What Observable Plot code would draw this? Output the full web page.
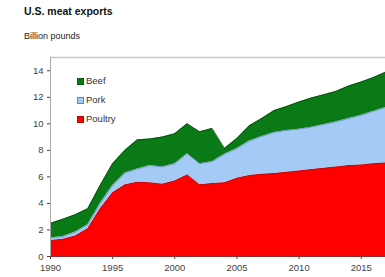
<!DOCTYPE html>
<html>
<head>
<meta charset="utf-8">
<script src="https://cdn.jsdelivr.net/npm/d3@7"></script>
<script src="https://cdn.jsdelivr.net/npm/@observablehq/plot@0.6"></script>
<style>
  html, body { margin: 0; padding: 0; background: #fff; overflow: hidden; }
  body { width: 385px; height: 277px; position: relative; font-family: "Liberation Sans", Arial, sans-serif; }
  #title { position: absolute; left: 24px; top: 5px; font-size: 10.5px; font-weight: bold; color: #111; }
  #subtitle { position: absolute; left: 24px; top: 31px; font-size: 9px; color: #222; }
  #chart { position: absolute; left: 0; top: 46px; }
  #legend { position: absolute; left: 77px; top: 75px; font-size: 9.5px; color: #333; }
  .li { position: absolute; left: 0; white-space: nowrap; height: 12px; line-height: 12px; }
  .sw { position: absolute; left: 0; top: 2.5px; width: 7px; height: 7px; box-sizing: border-box; }
  .lt { position: absolute; left: 9px; top: 0; }
</style>
</head>
<body>
<div id="title">U.S. meat exports</div>
<div id="subtitle">Billion pounds</div>
<div id="chart"></div>
<div id="legend"></div>
<script>
const years   = [1990,1991,1992,1993,1994,1995,1996,1997,1998,1999,2000,2001,2002,2003,2004,2005,2006,2007,2008,2009,2010,2011,2012,2013,2014,2015,2016,2017];
const poultry = [1.2,1.3,1.55,2.1,3.6,4.8,5.4,5.6,5.55,5.45,5.7,6.15,5.4,5.5,5.55,5.9,6.1,6.2,6.25,6.35,6.45,6.55,6.65,6.75,6.85,6.9,7.0,7.05];
const pork    = [0.2,0.2,0.3,0.3,0.4,0.55,0.9,1.0,1.3,1.3,1.3,1.6,1.6,1.65,2.15,2.25,2.6,2.85,3.1,3.15,3.15,3.2,3.3,3.4,3.55,3.75,3.95,4.2];
const beef    = [1.1,1.3,1.3,1.2,1.35,1.65,1.7,2.2,2.0,2.25,2.25,2.25,2.4,2.5,0.45,0.75,1.15,1.35,1.65,1.8,2.05,2.2,2.25,2.3,2.45,2.5,2.55,2.65];
const seriesNames = ["Poultry","Pork","Beef"];
const legendOrder = ["Beef","Pork","Poultry"];
const fillColors   = {Poultry: "#ff0000", Pork: "#a3cbf6", Beef: "#097a16"};
const strokeColors = {Poultry: "#b01010", Pork: "#6d8fb5", Beef: "#0c4a14"};
const swatchBorder = {Poultry: "#c00000", Pork: "#5b86c0", Beef: "#07600f"};
const yTicks = [0,2,4,6,8,10,12,14];
const xTicks = [1990,1995,2000,2005,2010,2015];

const valuesBySeries = {Poultry: poultry, Pork: pork, Beef: beef};
const table = [];
for (const s of seriesNames) {
  years.forEach((yr, i) => table.push({year: yr, series: s, value: valuesBySeries[s][i]}));
}

const chart = Plot.plot({
  width: 385,
  height: 231,
  marginTop: 11,
  marginBottom: 21,
  marginLeft: 50,
  marginRight: 0,
  style: {fontFamily: "'Liberation Sans', Arial, sans-serif", fontSize: "9.5px", color: "#444", background: "transparent"},
  x: {domain: [1990, 2016.95], ticks: xTicks, tickFormat: d => String(d), tickSize: 3, tickPadding: 5, label: null},
  y: {domain: [0, 15], ticks: yTicks, tickSize: 3, tickPadding: 4, label: null},
  color: {type: "identity"},
  marks: [
    Plot.areaY(table, Plot.stackY({x: "year", y: "value", z: "series", order: seriesNames, fill: d => fillColors[d.series], clip: true})),
    Plot.lineY(table, Plot.stackY2({x: "year", y: "value", z: "series", order: seriesNames, stroke: d => strokeColors[d.series], strokeWidth: 0.8, clip: true})),
    Plot.ruleY([15], {stroke: "#c8c8c8", strokeWidth: 1.5}),
    Plot.ruleX([1990], {stroke: "#aaa", strokeWidth: 1}),
    Plot.ruleY([0], {stroke: "#8a3030", strokeWidth: 1})
  ]
});
document.getElementById("chart").appendChild(chart);

const legend = document.getElementById("legend");
legendOrder.forEach((s, i) => {
  const row = document.createElement("div");
  row.className = "li";
  row.style.top = (i * 19) + "px";
  const sw = document.createElement("div");
  sw.className = "sw";
  sw.style.background = fillColors[s];
  sw.style.border = "1px solid " + swatchBorder[s];
  const t = document.createElement("span");
  t.className = "lt";
  t.textContent = s;
  row.appendChild(sw);
  row.appendChild(t);
  legend.appendChild(row);
});
</script>
</body>
</html>
